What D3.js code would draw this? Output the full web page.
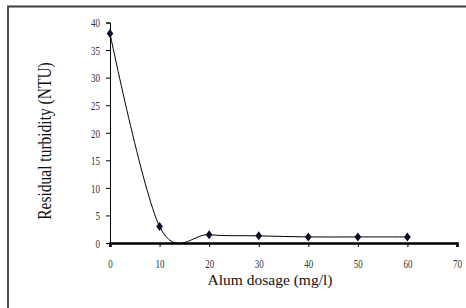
<!DOCTYPE html>
<html>
<head>
    <meta charset="UTF-8">
    <title>Residual turbidity vs alum dosage</title>
    <script type="text/javascript" src="https://d3js.org/d3.v7.min.js"></script>
    <style>
        body { margin: 0; background: #fff; }
        text { font-family: "Liberation Serif", "Times New Roman", serif; }
    </style>
</head>
<body>
    <svg id="chart"></svg>

    <script type="text/javascript">
        // data
        const dosage = [0, 10, 20, 30, 40, 50, 60];
        const turbidity = [38, 3, 1.5, 1.3, 1.1, 1.1, 1.1];
        const xTicks = [0, 10, 20, 30, 40, 50, 60, 70];
        const yTicks = [0, 5, 10, 15, 20, 25, 30, 35, 40];

        const width = 466,
            height = 308;
        // tick labels in the original are narrow and tall
        const squeeze = 0.75;

        const svg = d3.select('#chart')
            .attr('width', width)
            .attr('height', height);

        // frame (only left and top edges show in the crop)
        svg.append('path')
            .attr('d', 'M8,' + height + ' L8,6.5 L' + width + ',6.5')
            .attr('fill', 'none')
            .attr('stroke', '#3a3a3a')
            .attr('stroke-width', 1.8);

        // scales
        const x = d3.scaleLinear().domain([0, 70]).range([110, 457]);
        const y = d3.scaleLinear().domain([0, 40]).range([243, 22.5]);

        // y axis
        const yAxis = svg.append('g')
            .attr('transform', 'translate(' + x(0) + ',0)')
            .call(d3.axisLeft(y).tickValues(yTicks).tickSize(4));
        yAxis.select('.domain').attr('stroke', '#000').attr('stroke-width', 1);
        yAxis.selectAll('.tick line').attr('stroke', '#000');
        yAxis.selectAll('.tick text')
            .attr('font-size', 12)
            .attr('fill', '#333')
            .attr('x', -10 / squeeze)
            .attr('dy', '0.36em')
            .attr('transform', 'scale(' + squeeze + ',1)')
            .style('font-family', '"Liberation Serif", serif');

        // x axis
        const xAxis = svg.append('g')
            .attr('transform', 'translate(0,' + y(0) + ')')
            .call(d3.axisBottom(x).tickValues(xTicks).tickSize(4));
        xAxis.select('.domain').attr('stroke', '#000').attr('stroke-width', 2.6);
        xAxis.selectAll('.tick line').attr('stroke', '#000');
        xAxis.selectAll('.tick text')
            .attr('font-size', 12)
            .attr('fill', '#333')
            .attr('y', 25.5)
            .attr('dy', 0)
            .attr('transform', 'scale(' + squeeze + ',1)')
            .style('font-family', '"Liberation Serif", serif');

        // axis titles
        svg.append('text')
            .attr('x', 270)
            .attr('y', 284.5)
            .attr('text-anchor', 'middle')
            .attr('font-size', 15.5)
            .attr('fill', '#111')
            .text('Alum dosage (mg/l)');

        svg.append('text')
            .attr('transform', 'translate(51,141) rotate(-90) scale(1,1.2)')
            .attr('text-anchor', 'middle')
            .attr('font-size', 15.5)
            .attr('fill', '#111')
            .text('Residual turbidity (NTU)');

        // smoothed line (Excel-style)
        const points = dosage.map((d, i) => [d, turbidity[i]]);
        const line = d3.line()
            .x(d => x(d[0]))
            .y(d => y(d[1]))
            .curve(d3.curveCardinal.tension(0));

        svg.append('path')
            .attr('d', line(points))
            .attr('fill', 'none')
            .attr('stroke', '#000')
            .attr('stroke-width', 1);

        // diamond markers
        svg.selectAll('.marker')
            .data(points)
            .enter()
            .append('path')
            .attr('class', 'marker')
            .attr('transform', d => 'translate(' + x(d[0]) + ',' + y(d[1]) + ')')
            .attr('d', 'M0,-4.5 L3.3,0 L0,4.5 L-3.3,0 Z')
            .attr('fill', '#0b0b26')
            .attr('stroke', 'none');
    </script>
</body>
</html>
